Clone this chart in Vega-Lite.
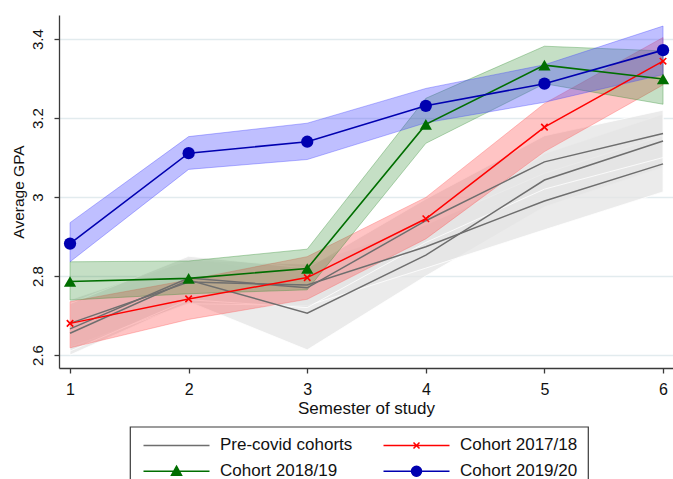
{
  "$schema": "https://vega.github.io/schema/vega-lite/v6.json",
  "width": 614,
  "height": 353,
  "autosize": {"type": "none"},
  "padding": {"left": 59, "top": 15, "right": 0, "bottom": 111},
  "background": "white",
  "datasets": {
    "gray": [
      {"cohort": "A", "semester": 1, "gpa": 2.655, "lo": 2.6, "hi": 2.71},
      {"cohort": "A", "semester": 2, "gpa": 2.79, "lo": 2.735, "hi": 2.845},
      {"cohort": "A", "semester": 3, "gpa": 2.706, "lo": 2.613, "hi": 2.8},
      {"cohort": "A", "semester": 4, "gpa": 2.853, "lo": 2.8, "hi": 2.906},
      {"cohort": "A", "semester": 5, "gpa": 3.043, "lo": 2.975, "hi": 3.11},
      {"cohort": "A", "semester": 6, "gpa": 3.142, "lo": 3.075, "hi": 3.21},
      {"cohort": "B", "semester": 1, "gpa": 2.68, "lo": 2.62, "hi": 2.74},
      {"cohort": "B", "semester": 2, "gpa": 2.785, "lo": 2.73, "hi": 2.84},
      {"cohort": "B", "semester": 3, "gpa": 2.777, "lo": 2.725, "hi": 2.83},
      {"cohort": "B", "semester": 4, "gpa": 2.874, "lo": 2.82, "hi": 2.93},
      {"cohort": "B", "semester": 5, "gpa": 2.99, "lo": 2.917, "hi": 3.06},
      {"cohort": "B", "semester": 6, "gpa": 3.084, "lo": 3.013, "hi": 3.155},
      {"cohort": "C", "semester": 1, "gpa": 2.666, "lo": 2.61, "hi": 2.73},
      {"cohort": "C", "semester": 2, "gpa": 2.795, "lo": 2.74, "hi": 2.85},
      {"cohort": "C", "semester": 3, "gpa": 2.77, "lo": 2.72, "hi": 2.82},
      {"cohort": "C", "semester": 4, "gpa": 2.94, "lo": 2.885, "hi": 2.995},
      {"cohort": "C", "semester": 5, "gpa": 3.089, "lo": 3.02, "hi": 3.155},
      {"cohort": "C", "semester": 6, "gpa": 3.161, "lo": 3.1, "hi": 3.22}
    ],
    "cov": [
      {"group": "Cohort 2017/18", "semester": 1, "gpa": 2.68, "lo": 2.618, "hi": 2.735},
      {"group": "Cohort 2017/18", "semester": 2, "gpa": 2.742, "lo": 2.69, "hi": 2.79},
      {"group": "Cohort 2017/18", "semester": 3, "gpa": 2.796, "lo": 2.741, "hi": 2.849},
      {"group": "Cohort 2017/18", "semester": 4, "gpa": 2.945, "lo": 2.894, "hi": 2.999},
      {"group": "Cohort 2017/18", "semester": 5, "gpa": 3.177, "lo": 3.115, "hi": 3.237},
      {"group": "Cohort 2017/18", "semester": 6, "gpa": 3.344, "lo": 3.284, "hi": 3.404},
      {"group": "Cohort 2018/19", "semester": 1, "gpa": 2.786, "lo": 2.739, "hi": 2.836},
      {"group": "Cohort 2018/19", "semester": 2, "gpa": 2.794, "lo": 2.755, "hi": 2.838},
      {"group": "Cohort 2018/19", "semester": 3, "gpa": 2.819, "lo": 2.765, "hi": 2.868},
      {"group": "Cohort 2018/19", "semester": 4, "gpa": 3.184, "lo": 3.136, "hi": 3.25},
      {"group": "Cohort 2018/19", "semester": 5, "gpa": 3.334, "lo": 3.287, "hi": 3.382},
      {"group": "Cohort 2018/19", "semester": 6, "gpa": 3.299, "lo": 3.235, "hi": 3.37},
      {"group": "Cohort 2019/20", "semester": 1, "gpa": 2.882, "lo": 2.836, "hi": 2.935},
      {"group": "Cohort 2019/20", "semester": 2, "gpa": 3.111, "lo": 3.07, "hi": 3.153},
      {"group": "Cohort 2019/20", "semester": 3, "gpa": 3.14, "lo": 3.095, "hi": 3.187},
      {"group": "Cohort 2019/20", "semester": 4, "gpa": 3.231, "lo": 3.188, "hi": 3.275},
      {"group": "Cohort 2019/20", "semester": 5, "gpa": 3.287, "lo": 3.24, "hi": 3.335},
      {"group": "Cohort 2019/20", "semester": 6, "gpa": 3.372, "lo": 3.31, "hi": 3.433}
    ]
  },
  "encoding": {
    "x": {
      "field": "semester", "type": "quantitative",
      "scale": {"domain": [0.907, 6.084], "nice": false, "zero": false},
      "axis": {
        "title": "Semester of study", "values": [1, 2, 3, 4, 5, 6], "grid": false,
        "labelFontSize": 16, "titleFontSize": 17, "labelPadding": 8, "titlePadding": 3
      }
    },
    "y": {
      "field": "gpa", "type": "quantitative",
      "scale": {"domain": [2.567, 3.461], "nice": false, "zero": false},
      "axis": {
        "title": "Average GPA", "values": [2.6, 2.8, 3.0, 3.2, 3.4], "format": "~g",
        "labelAngle": 270, "labelAlign": "center", "labelBaseline": "bottom",
        "labelFontSize": 15, "titleFontSize": 15.5, "labelPadding": 9, "titlePadding": 4,
        "grid": true, "gridColor": "#e2ebee", "gridWidth": 1.3
      }
    }
  },
  "layer": [
    {
      "data": {"name": "gray"},
      "mark": {"type": "area", "fill": "#e4e4e4", "fillOpacity": 0.75, "stroke": "white", "strokeWidth": 1, "strokeOpacity": 0.8},
      "encoding": {"y": {"field": "lo", "type": "quantitative"}, "y2": {"field": "hi"}, "detail": {"field": "cohort"}}
    },
    {
      "data": {"name": "cov"},
      "transform": [{"filter": "datum.group === 'Cohort 2017/18'"}],
      "mark": {"type": "area", "fill": "#ff3c3c", "fillOpacity": 0.3, "stroke": "#ff5a5a", "strokeWidth": 1, "strokeOpacity": 0.35},
      "encoding": {"y": {"field": "lo", "type": "quantitative"}, "y2": {"field": "hi"}}
    },
    {
      "data": {"name": "cov"},
      "transform": [{"filter": "datum.group === 'Cohort 2018/19'"}],
      "mark": {"type": "area", "fill": "#2e8b2e", "fillOpacity": 0.28, "stroke": "#2e8b2e", "strokeWidth": 1, "strokeOpacity": 0.35},
      "encoding": {"y": {"field": "lo", "type": "quantitative"}, "y2": {"field": "hi"}}
    },
    {
      "data": {"name": "cov"},
      "transform": [{"filter": "datum.group === 'Cohort 2019/20'"}],
      "mark": {"type": "area", "fill": "#3c3cff", "fillOpacity": 0.33, "stroke": "#3c3cff", "strokeWidth": 1, "strokeOpacity": 0.35},
      "encoding": {"y": {"field": "lo", "type": "quantitative"}, "y2": {"field": "hi"}}
    },
    {
      "data": {"name": "gray"},
      "mark": {"type": "line", "stroke": "#6e6e6e", "strokeWidth": 1.5},
      "encoding": {"detail": {"field": "cohort"}}
    },
    {
      "data": {"name": "cov"},
      "transform": [{"filter": "datum.group === 'Cohort 2017/18'"}],
      "mark": {"type": "line", "stroke": "#ff0000", "strokeWidth": 1.5},
      "encoding": {}
    },
    {
      "data": {"name": "cov"},
      "transform": [{"filter": "datum.group === 'Cohort 2018/19'"}],
      "mark": {"type": "line", "stroke": "#006e00", "strokeWidth": 1.6},
      "encoding": {}
    },
    {
      "data": {"name": "cov"},
      "transform": [{"filter": "datum.group === 'Cohort 2019/20'"}],
      "mark": {"type": "line", "stroke": "#0000b0", "strokeWidth": 1.6},
      "encoding": {}
    },
    {
      "data": {"name": "cov"},
      "transform": [{"filter": "datum.group === 'Cohort 2017/18'"}],
      "mark": {"type": "point", "shape": "M-1,-1L1,1M-1,1L1,-1", "size": 42, "filled": false, "stroke": "#ff0000", "strokeWidth": 1.6, "opacity": 1}
    },
    {
      "data": {"name": "cov"},
      "transform": [{"filter": "datum.group === 'Cohort 2018/19'"}],
      "mark": {"type": "point", "shape": "triangle-up", "size": 150, "filled": true, "fill": "#006e00", "opacity": 1}
    },
    {
      "data": {"name": "cov"},
      "transform": [{"filter": "datum.group === 'Cohort 2019/20'"}],
      "mark": {"type": "point", "shape": "circle", "size": 150, "filled": true, "fill": "#0000b0", "opacity": 1}
    },
    {
      "data": {"name": "cov"},
      "mark": {"type": "point", "opacity": 0, "filled": true},
      "encoding": {
        "fill": {
          "field": "group", "type": "nominal",
          "scale": {"domain": ["Pre-covid cohorts", "Cohort 2017/18", "Cohort 2018/19", "Cohort 2019/20"], "range": ["#6e6e6e", "#ff0000", "#006e00", "#0000b0"]},
          "legend": {"title": null}
        },
        "stroke": {
          "field": "group", "type": "nominal",
          "scale": {"domain": ["Pre-covid cohorts", "Cohort 2017/18", "Cohort 2018/19", "Cohort 2019/20"], "range": ["#6e6e6e", "#ff0000", "#006e00", "#0000b0"]},
          "legend": {"title": null}
        },
        "shape": {
          "field": "group", "type": "nominal",
          "scale": {
            "domain": ["Pre-covid cohorts", "Cohort 2017/18", "Cohort 2018/19", "Cohort 2019/20"],
            "range": [
              "M-1,0H12.2",
              "M-1,0H12.2M5,-0.6L6.2,0.6M5,0.6L6.2,-0.6",
              "M-1,0H12.2M5.6,-1L6.6,0.8L4.6,0.8Z",
              "M-1,0H12.2M6.6,0A1,1 0 1,1 4.6,0A1,1 0 1,1 6.6,0"
            ]
          },
          "legend": {"title": null}
        }
      }
    }
  ],
  "config": {
    "font": "Liberation Sans",
    "view": {"stroke": null},
    "axis": {
      "labelFont": "Liberation Sans", "titleFont": "Liberation Sans",
      "labelColor": "#111", "titleColor": "#111", "titleFontWeight": "normal",
      "domainColor": "#3a3a3a", "domainWidth": 1.3, "tickColor": "#3a3a3a", "tickWidth": 1.3, "tickSize": 5
    },
    "legend": {
      "orient": "none", "legendX": 71, "legendY": 411.7, "columns": 2, "direction": "horizontal",
      "symbolSize": 100, "symbolStrokeWidth": 1.5, "symbolOpacity": 1,
      "labelFont": "Liberation Sans", "labelFontSize": 17, "labelColor": "#111", "labelOffset": 63,
      "columnPadding": 27, "rowPadding": 8, "padding": 10,
      "strokeColor": "#3a3a3a", "strokeWidth": 1.2, "symbolOffset": 0
    }
  }
}
